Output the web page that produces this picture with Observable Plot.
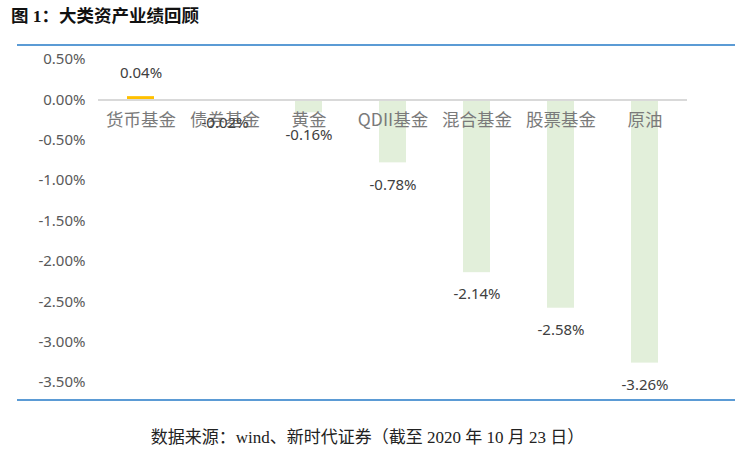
<!DOCTYPE html>
<html>
<head>
<meta charset="utf-8">
<script src="https://cdn.jsdelivr.net/npm/d3@7"></script>
<script src="https://cdn.jsdelivr.net/npm/@observablehq/plot@0.6"></script>
<style>
  html, body { margin: 0; padding: 0; background: #fff; }
  body { width: 735px; height: 450px; position: relative; overflow: hidden; }
  #title { position: absolute; left: 11px; top: 2px; font-family: "Liberation Serif", "Noto Sans CJK SC", serif; font-weight: bold; font-size: 17.5px; color: #111; }
  #chart { position: absolute; left: 17px; top: 44px; width: 718px; border-top: 2px solid #5b9bd5; border-bottom: 2px solid #5b9bd5; }
  #chart svg { display: block; }
  #caption { position: absolute; left: 0; width: 735px; top: 423px; text-align: center; font-family: "Liberation Serif", "Noto Sans CJK SC", serif; font-size: 17px; color: #222; }
</style>
</head>
<body>
<div id="title">图 1：大类资产业绩回顾</div>
<div id="chart"></div>
<div id="caption">数据来源：wind、新时代证券（截至 2020 年 10 月 23 日）</div>
<script>
const categories = ["货币基金", "债券基金", "黄金", "QDII基金", "混合基金", "股票基金", "原油"];
const values = [0.04, -0.02, -0.16, -0.78, -2.14, -2.58, -3.26];
const yTicks = [0.5, 0, -0.5, -1, -1.5, -2, -2.5, -3, -3.5];

const data = categories.map((c, i) => ({ category: c, value: values[i] }));
const fmt = d => d.toFixed(2) + "%";
const numFont = "'Noto Sans', 'Noto Sans CJK SC', sans-serif";

const chart = Plot.plot({
  width: 718,
  height: 353,
  marginLeft: 81,
  marginRight: 48,
  marginTop: 13,
  marginBottom: 17,
  style: { fontFamily: numFont, background: "#fff" },
  x: { domain: categories, paddingInner: 0.68, paddingOuter: 0.34, axis: null },
  y: { domain: [-3.5, 0.5], axis: null },
  marks: [
    Plot.barY(data, {
      x: "category", y: "value",
      fill: d => d.category === "货币基金" ? "#ffc000" : "#e2efda"
    }),
    Plot.ruleY([0], { stroke: "#d9d9d9", strokeWidth: 2 }),
    Plot.axisY(yTicks, {
      tickFormat: fmt, tickSize: 0, tickPadding: 13,
      fontSize: 15, fill: "#595959", label: null
    }),
    Plot.text(data, {
      x: "category", y: 0, text: "category", dy: 21,
      fontSize: 17.5, fill: "#7a7a7a",
      fontFamily: "'Noto Sans CJK SC', sans-serif"
    }),
    Plot.text(data.filter(d => d.value >= 0), {
      x: "category", y: "value", text: d => fmt(d.value),
      dy: -23, fontSize: 15, fill: "#404040"
    }),
    Plot.text(data.filter(d => d.value < 0), {
      x: "category", y: "value", text: d => fmt(d.value),
      dy: 22, fontSize: 15, fill: "#404040"
    })
  ]
});
document.getElementById("chart").appendChild(chart);
</script>
</body>
</html>
